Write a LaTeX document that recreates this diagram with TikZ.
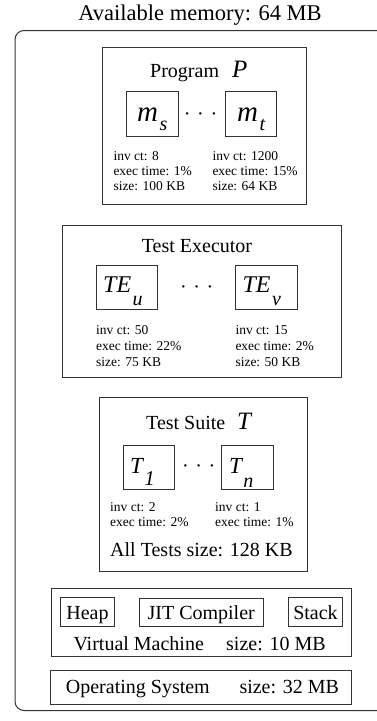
\documentclass[tikz,border=0pt]{standalone}
\usepackage{fontspec}
\setmainfont{Liberation Serif}
% italic symbol with a lowered index: size, symbol, index, index size, drop
\newcommand{\isub}[5]{{\fontsize{#1}{#1}\selectfont\itshape #2}\kern1.5pt\raisebox{-#5pt}{\fontsize{#4}{#4}\selectfont\itshape #3}}
\newcommand{\dotrow}{\textperiodcentered\hspace{6.7pt}\textperiodcentered\hspace{6.7pt}\textperiodcentered}

\begin{document}
\begin{tikzpicture}[x=1pt,y=-1pt,
    frame/.style={draw=black!80, line width=1pt},
    itembox/.style={draw=black!80, line width=1pt, inner sep=0pt, font=\fontsize{20}{24}\selectfont, text height=17pt, text depth=3pt},
    txt/.style={font=\fontsize{20}{24}\selectfont, inner sep=0pt, anchor=base west},
    info/.style={font=\fontsize{13.5}{15}\selectfont, inner sep=0pt, anchor=base west},
    sym/.style={inner sep=0pt, anchor=base west},
    dots/.style={font=\fontsize{20}{20}\selectfont, inner sep=0pt, anchor=base}]
    \useasboundingbox (0,0) rectangle (376,721);

    % titre
    \node[font=\fontsize{22.5}{27}\selectfont, inner sep=0pt, anchor=base] (title) at (200,20) {Available memory: 64 MB};

    % cadre memoire (ouvert a droite)
    \draw[frame, rounded corners=9pt] (380,30.5) -- (15,30.5) -- (15,710.5) -- (380,710.5);

    % Program P
    \draw[frame] (102.7,47.7) rectangle (306.7,204);
    \node[txt] (progname) at (150,77) {Program};
    \node[sym, font=\fontsize{25}{25}\selectfont\itshape] (progsym) at (232,77) {P};
    \draw[frame] (126,91.7) rectangle (178,136);
    \node[sym] (ms) at (137,121.7) {\isub{29}{m}{s}{20}{9}};
    \node[dots] (pdots) at (200.5,120.4) {\dotrow};
    \draw[frame] (225.3,91.7) rectangle (276.7,136);
    \node[sym] (mt) at (237,121.7) {\isub{29}{m}{t}{20}{9}};
    \node[info] (msa) at (113.3,160.7) {inv ct: 8};
    \node[info] (msb) at (113.3,175.3) {exec time: 1\%};
    \node[info] (msc) at (113.3,190) {size: 100 KB};
    \node[info] (mta) at (212.3,160.7) {inv ct: 1200};
    \node[info] (mtb) at (212.3,175.3) {exec time: 15\%};
    \node[info] (mtc) at (212.3,190) {size: 64 KB};

    % Test Executor
    \draw[frame] (62,225) rectangle (341.3,377.3);
    \node[txt] (tename) at (141.7,252.7) {Test Executor};
    \draw[frame] (96,265.3) rectangle (157.7,309.7);
    \node[sym] (teu) at (103,292.7) {\isub{24}{TE}{u}{20}{12.6}};
    \node[dots] (tedots) at (196.7,293.4) {\dotrow};
    \draw[frame] (235.3,265.3) rectangle (297,309.7);
    \node[sym] (tev) at (242.3,292.7) {\isub{24}{TE}{v}{20}{12.6}};
    \node[info] (teua) at (96,334) {inv ct: 50};
    \node[info] (teub) at (96,350) {exec time: 22\%};
    \node[info] (teuc) at (96,366) {size: 75 KB};
    \node[info] (teva) at (235.3,334) {inv ct: 15};
    \node[info] (tevb) at (235.3,350) {exec time: 2\%};
    \node[info] (tevc) at (235.3,366) {size: 50 KB};

    % Test Suite T
    \draw[frame] (99.3,397.3) rectangle (307.3,571);
    \node[txt] (tsname) at (146,429.3) {Test Suite};
    \node[sym, font=\fontsize{25}{25}\selectfont\itshape] (tssym) at (237,429.3) {T};
    \draw[frame] (123.3,445) rectangle (174.7,489.3);
    \node[sym] (tone) at (130,473.7) {\isub{23}{T}{1}{21}{11.6}};
    \node[dots] (tsdots) at (198.7,472.4) {\dotrow};
    \draw[frame] (221.7,445) rectangle (273.3,489.3);
    \node[sym] (tn) at (229,473.7) {\isub{23}{T}{n}{20}{13.3}};
    \node[info] (tonea) at (110,511.7) {inv ct: 2};
    \node[info] (toneb) at (110,526.7) {exec time: 2\%};
    \node[info] (tna) at (215,511.7) {inv ct: 1};
    \node[info] (tnb) at (215,526.7) {exec time: 1\%};
    \node[txt] (tssize) at (110,556) {All Tests size: 128 KB};

    % Virtual Machine
    \draw[frame] (51.7,588.3) rectangle (351.7,656.7);
    \node[itembox, minimum width=54.4, minimum height=29.4] (heap) at (87.5,612) {Heap};
    \node[itembox, minimum width=124.3, minimum height=27.7] (jit) at (201.2,612.2) {JIT Compiler};
    \node[itembox, minimum width=54.4, minimum height=29.4] (stack) at (315.5,612) {Stack};
    \node[txt] (vmname) at (73.3,650.7) {Virtual Machine};
    \node[txt] (vmsize) at (226,650.7) {size: 10 MB};

    % Operating System
    \draw[frame] (50.7,670.7) rectangle (351.7,704.3);
    \node[txt] (osname) at (65.7,693.3) {Operating System};
    \node[txt] (ossize) at (239.3,693.3) {size: 32 MB};
\end{tikzpicture}
\end{document}
